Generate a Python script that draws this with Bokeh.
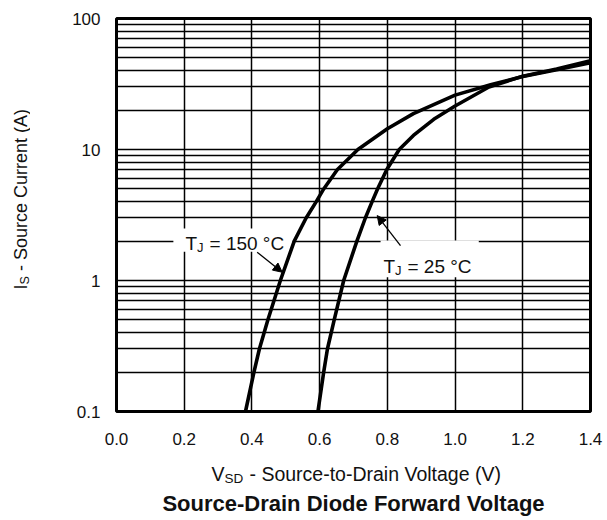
import math
from bokeh.plotting import figure
from bokeh.layouts import row, column
from bokeh.models import (FixedTicker, Label, Arrow, NormalHead, BoxAnnotation,
                          Range1d, CustomJSTickFormatter)
from bokeh.embed import file_html
from bokeh.resources import INLINE

# ---- data ----
vsd_150 = [0.381, 0.406, 0.422, 0.447, 0.484, 0.525, 0.560, 0.590, 0.612, 0.652,
           0.713, 0.80, 0.877, 1.0, 1.105, 1.2, 1.3, 1.4]
is_150 = [0.1, 0.2, 0.3, 0.5, 1.0, 2.0, 3.0, 4.0, 5.0, 7.0,
          10.0, 14.4, 18.8, 26.0, 31.2, 36.1, 40.7, 46.0]

vsd_25 = [0.595, 0.612, 0.623, 0.643, 0.671, 0.710, 0.735, 0.755, 0.771, 0.798,
          0.835, 0.877, 0.937, 1.0, 1.1, 1.2, 1.3, 1.4]
is_25 = [0.1, 0.2, 0.3, 0.5, 1.0, 2.0, 3.0, 4.0, 5.0, 7.0,
         10.0, 12.8, 17.0, 21.5, 30.0, 36.3, 41.2, 47.5]

x_ticks = [0.0, 0.2, 0.4, 0.6, 0.8, 1.0, 1.2, 1.4]
x_tick_labels = ["0.0", "0.2", "0.4", "0.6", "0.8", "1.0", "1.2", "1.4"]
y_ticks = [0.1, 1, 10, 100]
y_tick_labels = ["0.1", "1", "10", "100"]
y_minor_ticks = [0.2, 0.3, 0.4, 0.5, 0.6, 0.7, 0.8, 0.9,
                 2, 3, 4, 5, 6, 7, 8, 9,
                 20, 30, 40, 50, 60, 70, 80, 90]

FONT = "Liberation Sans"
INK = "#111111"

# ---------------- main chart ----------------
p = figure(width=577, height=450, x_range=Range1d(0.0, 1.4), y_range=Range1d(0.1, 100),
           y_axis_type="log", output_backend="svg", toolbar_location=None,
           min_border_left=86, min_border_right=17, min_border_top=18, min_border_bottom=39)
p.background_fill_color = "white"
p.border_fill_color = "white"
p.outline_line_color = "black"
p.outline_line_width = 3
p.outline_line_alpha = 1

xt = FixedTicker(ticks=x_ticks)
yt = FixedTicker(ticks=y_ticks, minor_ticks=y_minor_ticks)
p.xaxis.ticker = xt
p.yaxis.ticker = yt
p.xgrid.ticker = xt
p.ygrid.ticker = yt

p.xaxis.formatter = CustomJSTickFormatter(args=dict(vals=x_ticks, labs=x_tick_labels), code="""
let b = 0, d = Infinity;
for (let i = 0; i < vals.length; i++) { const e = Math.abs(vals[i] - tick); if (e < d) { d = e; b = i; } }
return labs[b];
""")
p.yaxis.formatter = CustomJSTickFormatter(args=dict(vals=y_ticks, labs=y_tick_labels), code="""
let b = 0, d = Infinity;
for (let i = 0; i < vals.length; i++) { const e = Math.abs(Math.log10(vals[i]) - Math.log10(tick)); if (e < d) { d = e; b = i; } }
return labs[b];
""")

for ax in (p.xaxis, p.yaxis):
    ax.axis_line_color = None
    ax.major_tick_line_color = None
    ax.minor_tick_line_color = None
    ax.major_label_text_font = FONT
    ax.major_label_text_font_size = "17px"
    ax.major_label_text_color = INK
p.xaxis.major_label_standoff = 15
p.yaxis.major_label_standoff = 10

for g in (p.xgrid, p.ygrid):
    g.grid_line_color = "black"
    g.grid_line_width = 1.5
    g.grid_line_alpha = 1
p.ygrid.minor_grid_line_color = "black"
p.ygrid.minor_grid_line_width = 1.5
p.ygrid.minor_grid_line_alpha = 1

# white boxes behind annotation texts
p.add_layout(BoxAnnotation(left=0.168, right=0.52, bottom=1.66, top=2.49,
                           fill_color="white", fill_alpha=1, line_color=None, level="underlay"))
p.add_layout(BoxAnnotation(left=0.78, right=1.07, bottom=1.06, top=2.02,
                           fill_color="white", fill_alpha=1, line_color=None, level="underlay"))

p.line(vsd_150, is_150, line_color="black", line_width=3.6, line_join="round")
p.line(vsd_25, is_25, line_color="black", line_width=3.6, line_join="round")


def lab(fig, x, y, text, size, dx=0, dy=0, bold=False, align="left", angle=0.0):
    fig.add_layout(Label(x=x, y=y, text=text, x_offset=dx, y_offset=dy, text_font=FONT,
                         text_font_size=size, text_color=INK, text_align=align,
                         text_baseline="alphabetic", angle=angle,
                         text_font_style="bold" if bold else "normal"))


# annotation texts: "T" + subscript "J" + rest
lab(p, 0.2038, 1.9, "T", "19px")
lab(p, 0.2038, 1.9, "J", "13px", dx=11.6, dy=-4)
lab(p, 0.2038, 1.9, "= 150 \u00b0C", "19px", dx=24.0)

lab(p, 0.7885, 1.285, "T", "19px")
lab(p, 0.7885, 1.285, "J", "13px", dx=11.6, dy=-4)
lab(p, 0.7885, 1.285, "= 25 \u00b0C", "19px", dx=24.0)

p.add_layout(Arrow(end=NormalHead(size=9, fill_color="black", line_color="black"),
                   x_start=0.4155, y_start=1.644, x_end=0.4894, y_end=1.157,
                   line_color="black", line_width=1.3))
p.add_layout(Arrow(end=NormalHead(size=9, fill_color="black", line_color="black"),
                   x_start=0.8388, y_start=1.849, x_end=0.770, y_end=3.13,
                   line_color="black", line_width=1.3))


def text_strip(w, h, xr, yr):
    f = figure(width=w, height=h, x_range=Range1d(*xr), y_range=Range1d(*yr),
               output_backend="svg", toolbar_location=None, min_border=0,
               x_axis_location=None, y_axis_location=None)
    f.title = None
    f.outline_line_color = None
    f.grid.visible = False
    f.background_fill_color = "white"
    f.border_fill_color = "white"
    return f


# ---------------- bottom strip: x-axis title + chart title ----------------
fb = text_strip(577, 70, (116, 590), (520, 450))
lab(fb, 211, 473.5, "V", "19.5px")
lab(fb, 224, 477.5, "SD", "13.5px")
lab(fb, 249, 473.5, "- Source-to-Drain Voltage (V)", "19.5px")
lab(fb, 353, 503, "Source-Drain Diode Forward Voltage", "22px", bold=True, align="center")

# ---------------- left strip: y-axis title (rotated) ----------------
fy = text_strip(30, 520, (0, 30), (520, 0))
lab(fy, 20, 289, "I", "18px", angle=math.pi / 2)
lab(fy, 24, 284, "S", "12.6px", angle=math.pi / 2)
lab(fy, 20, 270.6, "- Source Current (A)", "18px", angle=math.pi / 2)

layout = row(fy, column(p, fb, spacing=0), spacing=0)
open("out.html", "w").write(file_html(layout, INLINE))
